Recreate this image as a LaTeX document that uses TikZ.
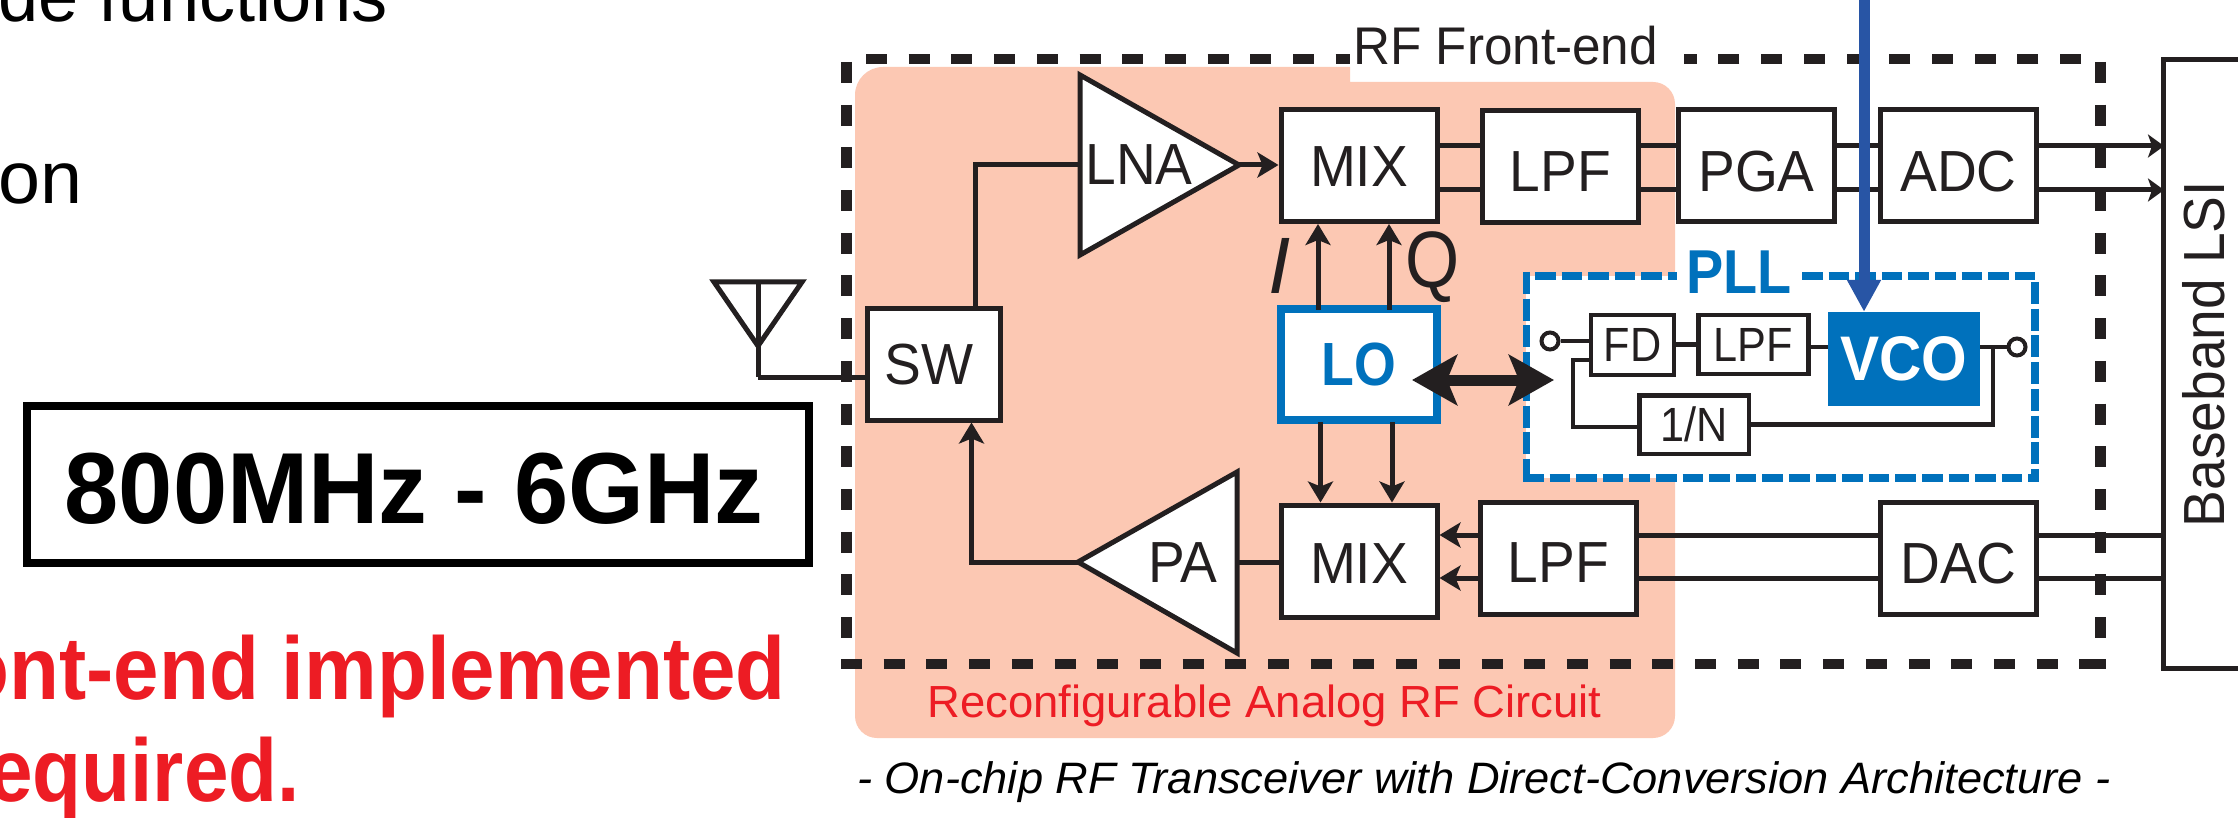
\documentclass[tikz,border=0pt]{standalone}
\usepackage{fontspec}
\setmainfont{Liberation Sans}
\usetikzlibrary{arrows.meta}
\newcommand{\fsz}[1]{\fontsize{#1}{#1}\selectfont}
\newcommand{\lab}[1]{\scalebox{.95}[1]{#1}}
\definecolor{ink}{HTML}{231F20}
\definecolor{peach}{HTML}{FCC8B3}
\definecolor{chipblue}{HTML}{0071BC}
\definecolor{inblue}{HTML}{2855A5}
\definecolor{alert}{HTML}{ED1C24}
\tikzset{
  x=1pt,y=-1pt,
  wire/.style={draw=ink,line width=5pt,line join=miter},
  thin wire/.style={draw=ink,line width=4.5pt},
  arr/.style={wire,-{Stealth[length=21pt,width=25pt,inset=5pt]}},
  smallarr/.style={wire,-{Stealth[length=16pt,width=23pt,inset=4pt]}},
  bigbox/.style={draw=ink,line width=5pt,fill=white,inner sep=0pt,text=ink,font=\fsz{58},minimum width=156pt,minimum height=112pt},
  smallbox/.style={draw=ink,line width=4.5pt,fill=white,inner sep=0pt,text=ink,font=\fsz{48}},
  txt/.style={inner sep=0pt,text=ink,font=\fsz{58}},
  hdash/.style={draw=ink,line width=10pt,dash pattern=on 21pt off 21.7pt},
  vdash/.style={draw=ink,line width=11pt,dash pattern=on 21pt off 21.7pt},
  pllh/.style={draw=chipblue,line width=8pt,dash pattern=on 20.5pt off 6.1pt},
  pllv/.style={draw=chipblue,line width=7.5pt,dash pattern=on 22pt off 4.7pt},
  port/.style={circle,draw=ink,line width=4pt,fill=white,minimum size=17pt,inner sep=0pt},
}
\begin{document}
\begin{tikzpicture}
\useasboundingbox (0,0) rectangle (2238,818);
\clip (0,0) rectangle (2238,818);
\fill[white] (0,0) rectangle (2238,818);

% left-hand slide text
\node[anchor=base east,inner sep=0pt,text=black,font=\fsz{74}] (t1) at (388,22) {\scalebox{.975}[1]{de functions}};
\node[anchor=base east,inner sep=0pt,text=black,font=\fsz{74}] (t2) at (83,203.5) {\scalebox{1.02}[1]{on}};
\node[draw=black,line width=8pt,fill=white,inner sep=0pt,minimum width=782pt,minimum height=157pt,font=\fsz{101}\bfseries,text=black,text height=77.5pt,text depth=0pt] (band) at (418,484.5) {\scalebox{.965}[1]{800MHz - 6GHz}\hspace*{8pt}};
\node[anchor=base east,inner sep=0pt,text=alert,font=\fsz{89}\bfseries] (t3) at (786,699) {\scalebox{.918}[1]{ont-end implemented}};
\node[anchor=base east,inner sep=0pt,text=alert,font=\fsz{89}\bfseries] (t4) at (300,801) {\scalebox{.9}[1]{equired.}};

% reconfigurable region
\fill[peach] [rounded corners=28pt] (855,738) -- (855,67) [sharp corners] -- (1350,67) -- (1350,82) [rounded corners=22pt] -- (1675,82) -- (1675,738) -- cycle;

% RF front-end frame
\path[hdash] (866,59.5) -- (1350,59.5);
\path[hdash] (2081,59.5) -- (1683.5,59.5);
\path[hdash] (841,664) -- (2106,664);
\fill[ink] (2090,659) rectangle (2106,669);
\path[vdash] (846.5,62) -- (846.5,640);
\path[vdash] (2100.5,62) -- (2100.5,640);
\node[anchor=base west,txt,font=\fsz{53}] (rf) at (1353,65) {\scalebox{.967}[1]{RF Front-end}};

% PLL frame
\fill[white] (1526,276) rectangle (2035,478);
\path[pllv] (1526.5,272) -- (1526.5,482);
\path[pllv] (2035,282) -- (2035,482);
\path[pllh] (1535,276) -- (1677,276);
\path[pllh] (1802,276) -- (2039,276);
\path[pllh] (1523,478) -- (2039,478);
\node[inner sep=0pt,text=chipblue,font=\fsz{62}\bfseries] (pll) at (1739,272) {\scalebox{.9}[1]{PLL}};

% row and column guides
\coordinate (r1) at (0,146);
\coordinate (r2) at (0,190);
\coordinate (r3) at (0,535);
\coordinate (r4) at (0,578);
\coordinate (cs) at (975,0);
\coordinate (cp) at (971.5,0);
\coordinate (ci) at (1318,0);
\coordinate (cq) at (1389,0);
\coordinate (di) at (1320.5,0);
\coordinate (dq) at (1392,0);
\coordinate (cv) at (1864,0);
\coordinate (cb) at (1993,0);
\coordinate (rv) at (0,347);
\coordinate (rd) at (0,427);
\coordinate (rf) at (0,360);
\coordinate (fb) at (1573,0);

% antenna
\coordinate (ant1) at (714,282);
\coordinate (ant2) at (802,282);
\coordinate (ant3) at (758,346);
\coordinate (ant4) at (758,377);
\draw[wire] (ant1) -- (ant2) -- (ant3) -- cycle;
\draw[wire] (758,282) -- (ant3) -- (ant4);

% amplifiers
\coordinate (lnaW) at (1080,165);
\coordinate (lnaE) at (1239,165);
\draw[wire,fill=white] (1080,75) -- (lnaE) -- (1080,255) -- cycle;
\node[txt] (lna) at (1139,165) {\lab{LNA}};
\coordinate (paW) at (1078,562);
\coordinate (paE) at (1237,562);
\draw[wire,fill=white] (paW) -- (1237,472) -- (1237,653) -- cycle;
\node[txt] (pa) at (1183,563) {\lab{PA}};

% blocks
\node[bigbox,minimum width=133pt,minimum height=111pt] (sw) at (933.5,364.5) {\lab{SW}\hspace*{9pt}};
\node[bigbox,text height=42pt,text depth=0pt] (mixt) at (1359,165.5) {\lab{MIX}};
\node[bigbox,text height=50pt,text depth=0pt] (lpft) at (1560.5,166.5) {\lab{LPF}};
\node[bigbox,text height=52pt,text depth=0pt] (pga) at (1756.5,165.5) {\lab{PGA}};
\node[bigbox,text height=52pt,text depth=0pt] (adc) at (1958.5,165.5) {\lab{ADC}};
\node[bigbox,text height=45pt,text depth=0pt] (mixb) at (1359,561) {\lab{MIX}};
\node[bigbox,text height=48pt,text depth=0pt] (lpfb) at (1558.5,558.5) {\lab{LPF}};
\node[bigbox,text height=50pt,text depth=0pt] (dac) at (1958.5,558.5) {\lab{DAC}};
\node[draw=chipblue,line width=8pt,fill=white,inner sep=0pt,minimum width=156pt,minimum height=111pt,text=chipblue,font=\fsz{61}\bfseries] (lo) at (1359,364.5) {\scalebox{.88}[1]{LO}};
\node[smallbox,minimum width=83pt,minimum height=59.5pt] (fd) at (1632.5,345) {\scalebox{.9}[1]{FD}};
\node[smallbox,minimum width=110pt,minimum height=59pt] (lpfs) at (1753.5,344.5) {\scalebox{.9}[1]{LPF}};
\node[smallbox,minimum width=109.5pt,minimum height=58.5pt] (div) at (1694,424.5) {\scalebox{.9}[1]{1/N}};
\node[fill=chipblue,inner sep=0pt,minimum width=152pt,minimum height=94pt,text=white,font=\fsz{63}\bfseries] (vco) at (1904,359) {\scalebox{.93}[1]{VCO}};
\node[port] (pin) at (1550,341) {};
\node[port] (pout) at (2017,347) {};
\node[draw=ink,line width=5pt,fill=white,inner sep=0pt,anchor=north west,minimum width=120pt,minimum height=608.5pt] (bb) at (2161,57.5) {};
\node[txt,rotate=90] (bbt) at (2204,354) {\lab{Baseband LSI}};

% I and Q
\node[txt,font=\fsz{80}\itshape] (il) at (1280,266) {I};
\node[txt,font=\fsz{80}] (ql) at (1433,267) {\scalebox{.87}[1]{Q}};

% connectors, upper path
\draw[wire] (ant4) -- (sw.west |- ant4);
\draw[wire] (cs |- sw.north) -- (cs |- lnaW) -- (lnaW);
\draw[arr] (lnaE) -- (mixt.west |- lnaE);
\draw[wire] (mixt.east |- r1) -- (lpft.west |- r1);
\draw[wire] (mixt.east |- r2) -- (lpft.west |- r2);
\draw[wire] (lpft.east |- r1) -- (pga.west |- r1);
\draw[wire] (lpft.east |- r2) -- (pga.west |- r2);
\draw[wire] (pga.east |- r1) -- (adc.west |- r1);
\draw[wire] (pga.east |- r2) -- (adc.west |- r2);
\draw[smallarr] (adc.east |- r1) -- ([xshift=3pt]bb.west |- r1);
\draw[smallarr] (adc.east |- r2) -- ([xshift=3pt]bb.west |- r2);

% connectors, local oscillator
\draw[arr] ([yshift=-5pt]ci |- lo.north) -- (ci |- mixt.south);
\draw[arr] ([yshift=-5pt]cq |- lo.north) -- (cq |- mixt.south);
\draw[arr] ([yshift=2pt]di |- lo.south) -- (di |- mixb.north);
\draw[arr] ([yshift=2pt]dq |- lo.south) -- (dq |- mixb.north);
\coordinate (dbl1) at (1412,380);
\coordinate (dbl2) at (1554,380);
\draw[draw=ink,line width=11pt,{Stealth[length=45pt,width=50pt,inset=10pt]}-{Stealth[length=45pt,width=50pt,inset=10pt]}] (dbl1) -- (dbl2);

% connectors, lower path
\draw[arr] (paW) -- (cp |- paW) -- (cp |- sw.south);
\draw[wire] (mixb.west |- paE) -- (paE);
\draw[arr] (lpfb.west |- r3) -- (mixb.east |- r3);
\draw[arr] (lpfb.west |- r4) -- (mixb.east |- r4);
\draw[wire] (dac.west |- r3) -- (lpfb.east |- r3);
\draw[wire] (dac.west |- r4) -- (lpfb.east |- r4);
\draw[wire] (bb.west |- r3) -- (dac.east |- r3);
\draw[wire] (bb.west |- r4) -- (dac.east |- r4);

% connectors, PLL
\draw[thin wire] (pin.east) -- (fd.west |- pin.east);
\draw[thin wire] (fd.east |- lpfs.west) -- (lpfs.west);
\draw[thin wire] (lpfs.east |- rv) -- (vco.west |- rv);
\draw[thin wire] (vco.east |- pout.west) -- (pout.west);
\draw[thin wire] (cb |- pout.west) -- (cb |- div.east) -- (div.east);
\draw[thin wire] (div.west |- rd) -- (fb |- rd) -- (fb |- rf) -- (fd.west |- rf);

% incoming control arrow
\draw[draw=inblue,line width=11pt,-{Triangle[length=32pt,width=32pt]}] (cv) -- (cv |- vco.north);

% captions
\node[anchor=base west,inner sep=0pt,text=alert,font=\fsz{45}] (rec) at (927,717) {\scalebox{1.01}[1]{Reconfigurable Analog RF Circuit}};
\node[anchor=base west,inner sep=0pt,text=black,font=\fsz{44}\itshape] (cap) at (857,793) {\scalebox{1.028}[1]{- On-chip RF Transceiver with Direct-Conversion Architecture -}};
\end{tikzpicture}
\end{document}
